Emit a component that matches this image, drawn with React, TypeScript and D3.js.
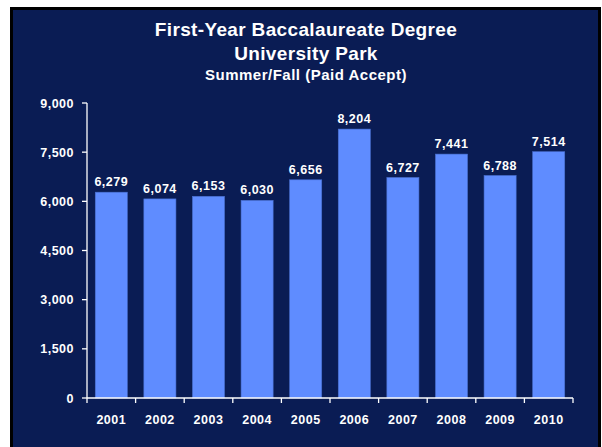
import React from "react";
import * as d3 from "d3";

const years = ["2001", "2002", "2003", "2004", "2005", "2006", "2007", "2008", "2009", "2010"];
const values = [6279, 6074, 6153, 6030, 6656, 8204, 6727, 7441, 6788, 7514];
const yTicks = [0, 1500, 3000, 4500, 6000, 7500, 9000];

const W = 602;
const H = 447;
const plot = { left: 87, right: 573, top: 103, bottom: 398 };

export default function App() {
  const x = d3.scaleBand<string>().domain(years).range([plot.left, plot.right]).paddingInner(0.34).paddingOuter(0.17);
  const y = d3.scaleLinear().domain([0, 9000]).range([plot.bottom, plot.top]);
  const fmt = d3.format(",");
  const font = "Arial, 'Liberation Sans', Helvetica, sans-serif";
  const edges = years.map((_, i) => plot.left + (i * (plot.right - plot.left)) / years.length);
  edges.push(plot.right);
  const lblSize = 12.5;
  const lblSpacing = 0.5;

  return (
    <svg width={W} height={H} style={{ position: "absolute", left: 0, top: 0, display: "block" }} fontFamily={font}>
      <rect x={0} y={0} width={W} height={H} fill="#ffffff" />
      <rect x={10} y={7} width={591} height={H} fill="#000000" />
      <rect x={13} y={10} width={585} height={H} fill="#0A1C54" />
      <g fill="#ffffff" fontWeight="bold" textAnchor="middle">
        <text x={306} y={36} fontSize={19} letterSpacing={0.35}>First-Year Baccalaureate Degree</text>
        <text x={306} y={59.5} fontSize={19} letterSpacing={0.35}>University Park</text>
        <text x={306} y={80} fontSize={15} letterSpacing={0.5}>Summer/Fall (Paid Accept)</text>
      </g>
      {values.map((v, i) => (
        <g key={years[i]}>
          <rect
            x={x(years[i])!}
            y={y(v)}
            width={x.bandwidth()}
            height={y(0) - y(v)}
            fill="#5F8CFF"
            stroke="#4A70D0"
            strokeWidth={0.6}
          />
          <text
            x={x(years[i])! + x.bandwidth() / 2}
            y={y(v) - 6}
            fill="#ffffff"
            fontSize={lblSize}
            letterSpacing={lblSpacing}
            fontWeight="bold"
            textAnchor="middle"
          >
            {fmt(v)}
          </text>
          <text
            x={x(years[i])! + x.bandwidth() / 2}
            y={424}
            fill="#ffffff"
            fontSize={lblSize}
            letterSpacing={lblSpacing}
            fontWeight="bold"
            textAnchor="middle"
          >
            {years[i]}
          </text>
        </g>
      ))}
      <g stroke="#ffffff" strokeWidth={1.3}>
        <line x1={plot.left} x2={plot.left} y1={plot.top} y2={plot.bottom} />
        <line x1={plot.left} x2={plot.right} y1={plot.bottom} y2={plot.bottom} />
        {yTicks.map((t) => (
          <line key={t} x1={plot.left - 5} x2={plot.left} y1={y(t)} y2={y(t)} />
        ))}
        {edges.map((e, i) => (
          <line key={i} x1={e} x2={e} y1={plot.bottom} y2={plot.bottom + 5} />
        ))}
      </g>
      {yTicks.map((t) => (
        <text
          key={t}
          x={74}
          y={y(t) + 4.5}
          fill="#ffffff"
          fontSize={lblSize}
          letterSpacing={lblSpacing}
          fontWeight="bold"
          textAnchor="end"
        >
          {fmt(t)}
        </text>
      ))}
    </svg>
  );
}
